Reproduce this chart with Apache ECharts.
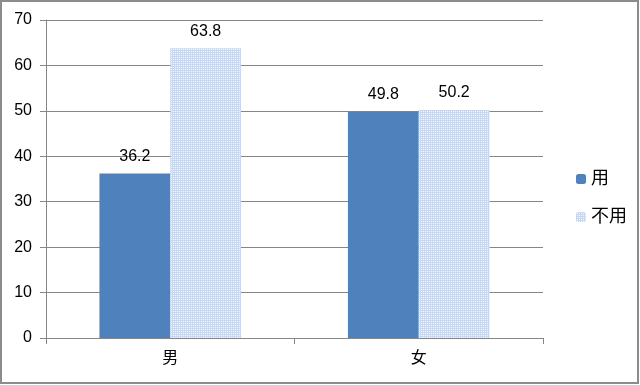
<!DOCTYPE html>
<html><head><meta charset="utf-8">
<script src="https://cdn.jsdelivr.net/npm/echarts@6/dist/echarts.min.js"></script>
<style>html,body{margin:0;padding:0;background:#fff}#c{width:640px;height:385px}</style>
</head><body><div id="c"></div>
<script>
var categories = ['男', '女'];
var seriesNames = ['用', '不用'];
var useValues = [36.2, 49.8];
var notUseValues = [63.8, 50.2];
var yTicks = [0, 10, 20, 30, 40, 50, 60, 70];

var pc = document.createElement('canvas');
pc.width = 2; pc.height = 2;
var ctx = pc.getContext('2d');
ctx.fillStyle = '#c8d7ed'; ctx.fillRect(0, 0, 2, 2);
ctx.fillStyle = '#f4f7fc'; ctx.fillRect(1, 1, 1, 1);
var pattern = { image: pc, repeat: 'repeat' };

var chart = echarts.init(document.getElementById('c'));
var font = "'Liberation Sans', 'Noto Sans CJK SC', sans-serif";
chart.setOption({
  animation: false,
  graphic: [{ type: 'rect', shape: { x: 1, y: 1, width: 637, height: 382 }, style: { fill: 'none', stroke: '#8c8c8c', lineWidth: 2 }, silent: true }],
  grid: { left: 46, right: 97, top: 20, bottom: 47 },
  legend: {
    orient: 'vertical', left: 571, top: 165, itemWidth: 10, itemHeight: 10, itemGap: 20,
    textStyle: { fontSize: 18, color: '#000', fontFamily: font },
    data: seriesNames
  },
  xAxis: {
    type: 'category', data: categories,
    axisLine: { lineStyle: { color: '#868686' } },
    axisTick: { show: true, length: 6, lineStyle: { color: '#868686' } },
    axisLabel: { fontSize: 16, color: '#000', margin: 13, fontFamily: font }
  },
  yAxis: {
    type: 'value', min: 0, max: 70, interval: 10,
    axisLine: { show: true, lineStyle: { color: '#868686' } },
    axisTick: { show: true, length: 6, lineStyle: { color: '#868686' } },
    splitLine: { lineStyle: { color: '#868686' } },
    axisLabel: { fontSize: 16, color: '#000', margin: 14, fontFamily: font,
      formatter: function (v) { return yTicks.indexOf(v) >= 0 ? String(v) : ''; } }
  },
  series: [
    { name: seriesNames[0], type: 'bar', data: useValues, barGap: '0%', barCategoryGap: '43%',
      itemStyle: { color: '#4f81bd' },
      label: { show: true, position: 'top', distance: 9, fontSize: 16, color: '#000', fontFamily: font } },
    { name: seriesNames[1], type: 'bar', data: notUseValues, barGap: '0%', barCategoryGap: '43%',
      itemStyle: { color: pattern },
      label: { show: true, position: 'top', distance: 9, fontSize: 16, color: '#000', fontFamily: font } }
  ]
});
</script></body></html>
